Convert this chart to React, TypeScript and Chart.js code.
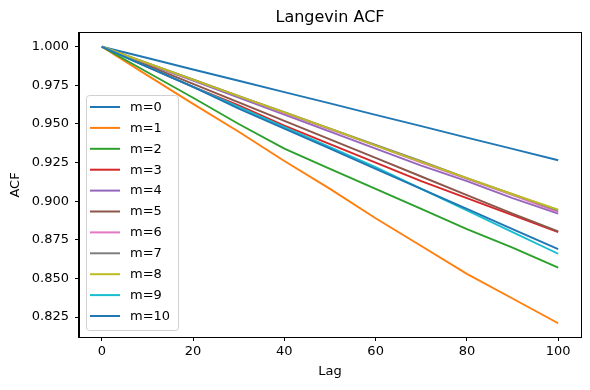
import React, { useEffect, useRef } from "react";
import { Chart, registerables } from "chart.js";

Chart.register(...registerables);

const lags = [0, 10, 20, 30, 40, 50, 60, 70, 80, 90, 100];
const seriesLabels = ["m=0", "m=1", "m=2", "m=3", "m=4", "m=5", "m=6", "m=7", "m=8", "m=9", "m=10"];
const m0 = [1, 0.9927, 0.9853, 0.978, 0.9706, 0.9633, 0.9559, 0.9486, 0.9412, 0.9339, 0.9265];
const m1 = [1, 0.9815, 0.963, 0.945, 0.926, 0.908, 0.889, 0.871, 0.853, 0.837, 0.821];
const m2 = [1, 0.9835, 0.967, 0.95, 0.934, 0.921, 0.908, 0.895, 0.882, 0.87, 0.857];
const m3 = [1, 0.987, 0.974, 0.962, 0.949, 0.937, 0.925, 0.913, 0.902, 0.891, 0.88];
const m4 = [1, 0.989, 0.978, 0.967, 0.956, 0.945, 0.934, 0.923, 0.913, 0.902, 0.892];
const m5 = [1, 0.988, 0.976, 0.964, 0.952, 0.94, 0.928, 0.916, 0.904, 0.892, 0.8805];
const m6 = [1, 0.9893, 0.9786, 0.968, 0.957, 0.9465, 0.936, 0.925, 0.9145, 0.904, 0.893];
const m7 = [1, 0.9894, 0.9788, 0.968, 0.9576, 0.947, 0.9364, 0.926, 0.915, 0.9046, 0.894];
const m8 = [1, 0.9894, 0.9787, 0.968, 0.9575, 0.947, 0.936, 0.9255, 0.915, 0.9045, 0.8945];
const m9 = [1, 0.987, 0.974, 0.961, 0.948, 0.935, 0.922, 0.908, 0.894, 0.88, 0.866];
const m10 = [1, 0.987, 0.974, 0.96, 0.947, 0.934, 0.921, 0.908, 0.895, 0.882, 0.869];
const allSeries = [m0, m1, m2, m3, m4, m5, m6, m7, m8, m9, m10];
const colors = [
  "#1f77b4", "#ff7f0e", "#2ca02c", "#d62728", "#9467bd", "#8c564b",
  "#e377c2", "#7f7f7f", "#bcbd22", "#17becf", "#1f77b4",
];
const xTicks = [0, 20, 40, 60, 80, 100];
const yTicks = [0.825, 0.85, 0.875, 0.9, 0.925, 0.95, 0.975, 1.0];

const FONT = "DejaVu Sans";

const decorPlugin = {
  id: "decor",
  afterDraw(chart: any) {
    const ctx = chart.ctx;
    const a = chart.chartArea;
    ctx.save();
    // frame
    ctx.strokeStyle = "#000";
    ctx.lineWidth = 1;
    ctx.strokeRect(Math.round(a.left) - 0.5, Math.round(a.top) - 0.5, Math.round(a.right - a.left) + 1, Math.round(a.bottom - a.top) + 1);
    // titles
    ctx.fillStyle = "#000";
    ctx.textAlign = "center";
    ctx.textBaseline = "middle";
    ctx.font = `16px "${FONT}"`;
    ctx.fillText("Langevin ACF", (a.left + a.right) / 2, 18);
    ctx.font = `13px "${FONT}"`;
    ctx.fillText("Lag", (a.left + a.right) / 2, 372);
    ctx.save();
    ctx.translate(16, (a.top + a.bottom) / 2);
    ctx.rotate(-Math.PI / 2);
    ctx.fillText("ACF", 0, 0);
    ctx.restore();
    // legend
    const bx = 86.5, by = 95.5, bw = 92, bh = 235, r = 3;
    ctx.beginPath();
    ctx.moveTo(bx + r, by);
    ctx.lineTo(bx + bw - r, by);
    ctx.quadraticCurveTo(bx + bw, by, bx + bw, by + r);
    ctx.lineTo(bx + bw, by + bh - r);
    ctx.quadraticCurveTo(bx + bw, by + bh, bx + bw - r, by + bh);
    ctx.lineTo(bx + r, by + bh);
    ctx.quadraticCurveTo(bx, by + bh, bx, by + bh - r);
    ctx.lineTo(bx, by + r);
    ctx.quadraticCurveTo(bx, by, bx + r, by);
    ctx.closePath();
    ctx.fillStyle = "rgba(255,255,255,0.8)";
    ctx.fill();
    ctx.strokeStyle = "#d0d0d0";
    ctx.lineWidth = 1;
    ctx.stroke();
    ctx.textAlign = "left";
    ctx.textBaseline = "middle";
    ctx.font = `13px "${FONT}"`;
    chart.data.datasets.forEach((ds: any, i: number) => {
      const y = 107 + i * 20.9;
      ctx.strokeStyle = ds.borderColor;
      ctx.lineWidth = 2;
      ctx.beginPath();
      ctx.moveTo(90, y);
      ctx.lineTo(120, y);
      ctx.stroke();
      ctx.fillStyle = "#000";
      ctx.fillText(ds.label, 130, y + 0.5);
    });
    ctx.restore();
  },
};

export default function App() {
  const ref = useRef<HTMLCanvasElement | null>(null);
  useEffect(() => {
    document.body.style.margin = "0";
    const canvas = ref.current!;
    const chart = new Chart(canvas, {
      type: "line",
      data: {
        datasets: allSeries.map((vals, i) => ({
          label: seriesLabels[i],
          data: lags.map((x, j) => ({ x, y: vals[j] })),
          borderColor: colors[i],
          backgroundColor: colors[i],
          borderWidth: 1.9,
          pointRadius: 0,
          fill: false,
          tension: 0,
          order: allSeries.length - i,
        })),
      },
      options: {
        responsive: false,
        animation: false,
        devicePixelRatio: 1,
        layout: { padding: { top: 33, right: 9, left: 0, bottom: 0 } },
        plugins: {
          legend: { display: false },
          title: { display: false },
          tooltip: { enabled: false },
        },
        scales: {
          x: {
            type: "linear",
            min: -5,
            max: 105,
            afterBuildTicks: (s: any) => {
              s.ticks = xTicks.map((v) => ({ value: v }));
            },
            afterFit: (s: any) => {
              s.height = 53;
            },
            ticks: {
              color: "#000",
              font: { family: FONT, size: 13 },
              padding: 3,
              maxRotation: 0,
              callback: (v: any) => String(v),
            },
            grid: { drawOnChartArea: false, drawTicks: true, tickLength: 4, color: "#000" },
            border: { display: true, color: "#000" },
          },
          y: {
            type: "linear",
            min: 0.8121,
            max: 1.0089,
            afterBuildTicks: (s: any) => {
              s.ticks = yTicks.map((v) => ({ value: v }));
            },
            afterFit: (s: any) => {
              s.width = 79;
            },
            ticks: {
              color: "#000",
              font: { family: FONT, size: 13 },
              padding: 6,
              callback: (v: any) => Number(v).toFixed(3),
            },
            grid: { drawOnChartArea: false, drawTicks: true, tickLength: 4, color: "#000" },
            border: { display: true, color: "#000" },
          },
        },
      },
      plugins: [decorPlugin],
    } as any);
    return () => chart.destroy();
  }, []);
  return (
    <div style={{ width: 590, height: 390 }}>
      <canvas ref={ref} width={590} height={390} style={{ width: 590, height: 390, display: "block" }} />
    </div>
  );
}
